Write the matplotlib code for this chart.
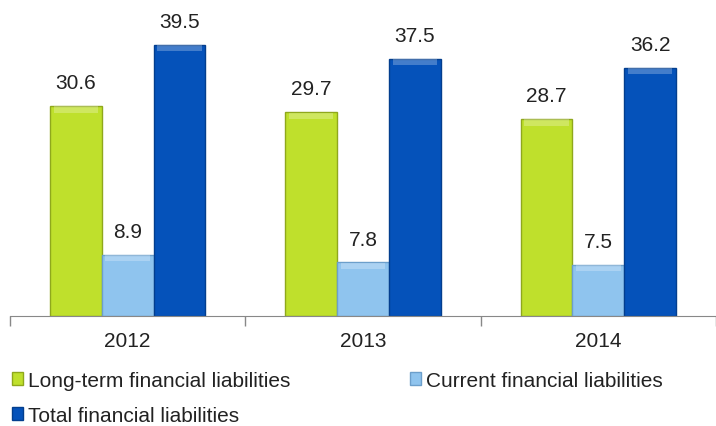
import numpy as np
import matplotlib.pyplot as plt

# financial liabilities by year
years = ["2012", "2013", "2014"]
long_term = [30.6, 29.7, 28.7]
current = [8.9, 7.8, 7.5]
total = [39.5, 37.5, 36.2]

series_names = ["Long-term financial liabilities",
                "Current financial liabilities",
                "Total financial liabilities"]
colors = ["#BFE02C", "#8FC4EE", "#0552BA"]
edges = ["#8FA81C", "#6C9FCB", "#033E8E"]

plt.rcParams["font.family"] = ["Liberation Sans", "DejaVu Sans"]

fig = plt.figure(figsize=(7.16, 4.27), dpi=100)
ax = fig.add_axes([10 / 716, 1 - 317 / 427, 706 / 716, 317 / 427])

x = np.arange(len(years))
width = 0.22
handles = []
for i, (vals, c, ec) in enumerate(zip([long_term, current, total], colors, edges)):
    pos = x + (i - 1) * width
    bars = ax.bar(pos, vals, width, color=c, edgecolor=ec, linewidth=1.0,
                  label=series_names[i], zorder=2)
    handles.append(bars)
    # light bevel along the top edge
    ax.bar(pos, [0.9] * len(vals), width * 0.86, bottom=[v - 0.95 for v in vals],
           color="white", alpha=0.25, linewidth=0, zorder=3)
    for b, v in zip(bars, vals):
        ax.text(b.get_x() + b.get_width() / 2, v + 2.0, f"{v:.1f}",
                ha="center", va="bottom", fontsize=15, color="#222222")

ax.set_xlim(-0.5, len(years) - 0.5)
ax.set_ylim(0, 46.2)
for s in ["top", "right", "left"]:
    ax.spines[s].set_visible(False)
ax.spines["bottom"].set_color("#888888")
ax.set_yticks([])
ax.set_xticks(x)
ax.set_xticklabels(years, fontsize=15, color="#222222")
ax.tick_params(axis="x", length=0, pad=11)
ax.set_xticks(np.arange(-0.5, len(years)), minor=True)
ax.tick_params(axis="x", which="minor", length=7, color="#888888", width=1)

# one legend entry per anchor point
anchors = [(12, 391), (410, 391), (12, 426)]
for h, name, (lx, ly) in zip(handles, series_names, anchors):
    leg = fig.legend([h], [name], loc="lower left",
                     bbox_to_anchor=(lx / 716, 1 - ly / 427), frameon=False,
                     fontsize=15, handlelength=0.55, handleheight=0.55,
                     handletextpad=0.2, borderaxespad=0, borderpad=0)
    for t in leg.get_texts():
        t.set_color("#222222")

fig.savefig("out.png", dpi=100)
